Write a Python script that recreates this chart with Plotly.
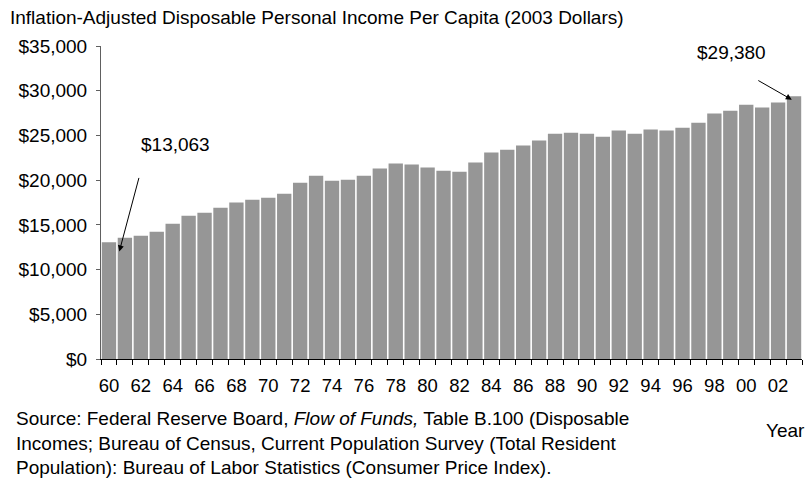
import plotly.graph_objects as go

years = list(range(1960, 2004))
income = [13063, 13570, 13790, 14240, 15130, 16030, 16360, 16900, 17500, 17820,
          18040, 18490, 19720, 20500, 19940, 20050, 20500, 21290, 21850, 21740,
          21400, 21060, 20950, 21960, 23080, 23410, 23860, 24420, 25200, 25310,
          25200, 24860, 25540, 25200, 25650, 25540, 25870, 26430, 27440, 27770,
          28440, 28110, 28670, 29380]
tick_years = list(range(1960, 2004, 2))
tick_labels = ["60", "62", "64", "66", "68", "70", "72", "74", "76", "78", "80",
               "82", "84", "86", "88", "90", "92", "94", "96", "98", "00", "02"]
y_ticks = [0, 5000, 10000, 15000, 20000, 25000, 30000, 35000]

FONT = "Liberation Sans, Arial, sans-serif"

fig = go.Figure()
fig.add_trace(go.Bar(x=years, y=income, marker=dict(color="#969696", line=dict(width=0)),
                     hoverinfo="x+y"))

fig.update_layout(
    width=809, height=479,
    margin=dict(l=101, r=7, t=46, b=120),
    paper_bgcolor="white", plot_bgcolor="white",
    bargap=0.1, showlegend=False,
    font=dict(family=FONT, size=19, color="black"),
    title=dict(text="Inflation-Adjusted Disposable Personal Income Per Capita (2003 Dollars)",
               xref="container", yref="container", x=10 / 809, xanchor="left",
               y=1 - 17 / 479, yanchor="middle",
               font=dict(family=FONT, size=19, color="black")),
)

fig.update_xaxes(
    range=[years[0] - 0.5, years[-1] + 0.5],
    tickmode="array", tickvals=tick_years, ticktext=tick_labels,
    ticks="", showgrid=False, zeroline=False,
    showline=True, linecolor="black", linewidth=1,
    ticklabelstandoff=10,
    tickfont=dict(family=FONT, size=18.5, color="black"),
    minor=dict(tickmode="array", tickvals=[y - 0.5 for y in years] + [years[-1] + 0.5],
               ticks="outside", ticklen=5, tickcolor="black", tickwidth=1, showgrid=False),
)
fig.update_yaxes(
    range=[0, 35000], tickmode="array", tickvals=y_ticks,
    tickformat="$,.0f", ticks="outside", ticklen=4, tickcolor="#606060",
    showgrid=False, zeroline=False, showline=True, linecolor="#606060", linewidth=1,
    ticklabelstandoff=5,
    tickfont=dict(family=FONT, size=19, color="black"),
)

# value annotations
fig.add_annotation(x=1964.2, y=23970, text="$" + f"{income[0]:,}", showarrow=False,
                   font=dict(family=FONT, size=19, color="black"))
fig.add_annotation(x=1960.65, y=12030, ax=20, ay=-75, text="", showarrow=True,
                   arrowhead=2, arrowsize=1.2, arrowwidth=1, arrowcolor="black")
fig.add_annotation(x=1999.05, y=34280, text="$" + f"{income[-1]:,}", showarrow=False,
                   font=dict(family=FONT, size=19, color="black"))
fig.add_annotation(x=2002.86, y=29000, ax=-35, ay=-20, text="", showarrow=True,
                   arrowhead=2, arrowsize=1.2, arrowwidth=1, arrowcolor="black")

# axis title and source
fig.add_annotation(xref="paper", yref="paper", x=(785 - 101) / 701, y=-(431 - 359) / 313,
                   text="Year", showarrow=False, xanchor="center", yanchor="middle",
                   font=dict(family=FONT, size=19, color="black"))
fig.add_annotation(xref="paper", yref="paper", x=-(101 - 14) / 701, y=-(406 - 359) / 313,
                   text="Source: Federal Reserve Board, <i>Flow of Funds,</i> Table B.100 (Disposable<br>"
                        "Incomes; Bureau of Census, Current Population Survey (Total Resident<br>"
                        "Population): Bureau of Labor Statistics (Consumer Price Index).",
                   showarrow=False, xanchor="left", yanchor="top", align="left",
                   font=dict(family=FONT, size=19, color="black"))

fig.write_html("out.html")
